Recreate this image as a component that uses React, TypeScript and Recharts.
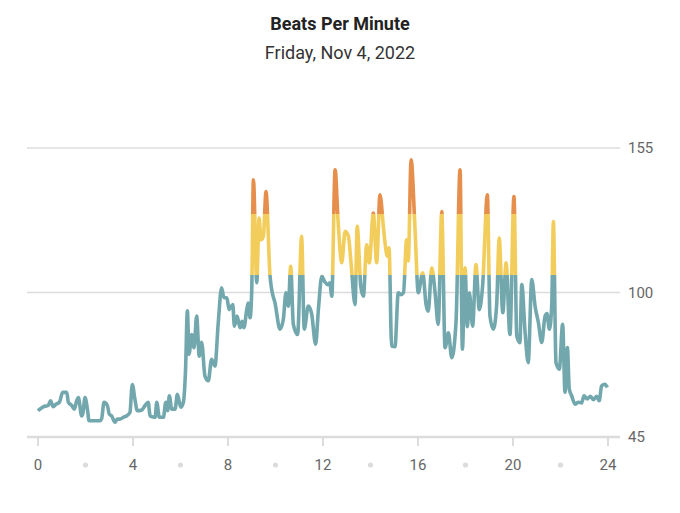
import React from 'react'
import { LineChart, Line, XAxis, YAxis, CartesianGrid } from 'recharts'

// time of day (hours) and heart rate readings
const hours = [
  0.0, 0.22, 0.43, 0.53, 0.64, 0.76, 0.9, 1.04, 1.21, 1.28, 1.42, 1.53, 1.63, 1.7, 1.84, 1.89, 1.98, 2.08, 2.15, 2.61,
  2.68, 2.78, 2.92, 3.0, 3.1, 3.24, 3.34, 3.45, 3.59, 3.73, 3.87, 3.97, 4.08, 4.18, 4.37, 4.51, 4.64, 4.72, 4.93, 5.0,
  5.11, 5.28, 5.38, 5.46, 5.53, 5.63, 5.77, 5.87, 6.01, 6.12, 6.21, 6.29, 6.36, 6.47, 6.57, 6.68, 6.79, 6.89, 7.03, 7.17,
  7.31, 7.45, 7.59, 7.73, 7.83, 7.95, 8.05, 8.2, 8.27, 8.38, 8.51, 8.59, 8.67, 8.79, 8.85, 8.93, 9.0, 9.07, 9.21, 9.31,
  9.39, 9.49, 9.6, 9.77, 9.84, 9.98, 10.19, 10.33, 10.44, 10.54, 10.64, 10.75, 10.93, 11.1, 11.21, 11.38, 11.52, 11.69, 11.81, 11.95,
  12.08, 12.21, 12.29, 12.37, 12.51, 12.64, 12.79, 12.93, 13.07, 13.17, 13.35, 13.44, 13.59, 13.7, 13.84, 13.95, 14.12, 14.26, 14.4, 14.54,
  14.61, 14.71, 14.78, 14.89, 15.03, 15.17, 15.28, 15.39, 15.52, 15.59, 15.71, 15.87, 16.01, 16.2, 16.34, 16.43, 16.58, 16.72, 16.85, 17.0,
  17.14, 17.28, 17.42, 17.6, 17.77, 17.87, 17.98, 18.08, 18.16, 18.3, 18.44, 18.58, 18.72, 18.92, 19.03, 19.17, 19.31, 19.42, 19.57, 19.71,
  19.87, 20.04, 20.16, 20.29, 20.37, 20.51, 20.64, 20.79, 20.93, 21.07, 21.21, 21.35, 21.43, 21.53, 21.63, 21.7, 21.81, 21.95, 22.09, 22.19,
  22.29, 22.37, 22.47, 22.61, 22.75, 22.89, 22.99, 23.12, 23.26, 23.38, 23.52, 23.63, 23.73, 23.87, 23.97,
]
const bpm = [
  55, 56.5, 57, 58.8, 56.5, 57.5, 58.2, 62, 62, 58.2, 57, 55.6, 58.8, 60, 53, 54, 60, 55.6, 51.2, 51.2,
  52, 58.2, 57, 53.7, 53, 50.6, 51.8, 51.8, 52.5, 53, 54.3, 65, 59.4, 55, 55.3, 57, 58.2, 53, 52.5, 58.2,
  52.5, 52.5, 58.2, 55, 60.7, 55.6, 55.6, 61.3, 56.3, 58.2, 70, 93, 76.5, 84, 79, 91, 75.8, 81, 68.2, 66.4,
  74.6, 72, 88.5, 101.8, 98, 98, 93.5, 95.4, 87.2, 91, 86.6, 89, 86.6, 93.5, 96, 90.4, 101, 142.9, 103.7, 128.3,
  120, 121.4, 138.4, 106.2, 101.1, 96, 86, 89.8, 99.9, 94.8, 110, 88, 84, 121.4, 86, 94.8, 92, 80.3, 94, 106.2,
  104, 103, 103.7, 98.6, 146.7, 126.4, 111.3, 123.3, 121.4, 112.5, 95.4, 125.2, 102.4, 98.6, 118.2, 111.3, 130.2, 111.3, 137.2, 125.2,
  119, 113.8, 117, 79.6, 79.4, 99.9, 99.2, 100, 120.1, 112, 150.5, 125.2, 99.9, 107.5, 95.4, 92.9, 109.4, 99.9, 87.9, 130.8,
  79, 84.7, 75.2, 88.5, 146.7, 78.4, 109.4, 87, 99.9, 87.2, 110.6, 93.5, 102.4, 137.2, 91, 86, 95, 120.7, 92.3, 111.3,
  84, 136.5, 83.4, 80.9, 103, 84.7, 73.3, 104.9, 94.8, 88.5, 81, 91, 92, 86, 94.8, 127, 73.3, 70.8, 87.9, 62,
  79, 63.2, 60.7, 57.5, 58.2, 58, 60.7, 59.5, 60.5, 59.2, 60.5, 58.8, 64.4, 65.1, 63.8,
]

const xTicks = [0, 2, 4, 6, 8, 10, 12, 14, 16, 18, 20, 22, 24]
const yTicks = [45, 100, 155]
const zoneHigh = 130
const zoneMid = 106.5

const data = hours.map((h, i) => ({ h, bpm: bpm[i] }))

const TEAL = '#72a8ad'
const YELLOW = '#f2cd5b'
const ORANGE = '#e68f4c'

function HourTick(props: any) {
  const { x, y, payload } = props
  const v = payload.value as number
  if (v % 4 !== 0) {
    return <circle cx={x} cy={y + 20} r={2.6} fill="#dcdcdc" />
  }
  return (
    <g>
      <line x1={x} x2={x} y1={y - 8} y2={y + 1} stroke="#dcdcdc" strokeWidth={2} />
      <text x={x} y={y + 25} textAnchor="middle" fill="#666" fontSize={15} fontFamily="Roboto">
        {v}
      </text>
    </g>
  )
}

export default function App() {
  const max = Math.max(...bpm)
  const min = Math.min(...bpm)
  const offHigh = (max - zoneHigh) / (max - min)
  const offMid = (max - zoneMid) / (max - min)

  return (
    <div style={{ position: 'relative', width: 664, height: 500, fontFamily: 'Roboto, sans-serif' }}>
      <div style={{ position: 'absolute', top: 6, left: 0, width: 664, textAlign: 'center', fontSize: 18, fontWeight: 700, lineHeight: '20px', color: '#222' }}>
        Beats Per Minute
      </div>
      <div style={{ position: 'absolute', top: 35, left: 0, width: 664, textAlign: 'center', fontSize: 18, lineHeight: '20px', color: '#333' }}>
        Friday, Nov 4, 2022
      </div>
      <LineChart width={664} height={480} data={data} margin={{ top: 140, right: 0, left: 19, bottom: 11 }}>
        <defs>
          <linearGradient id="bpmZones" x1="0" y1="0" x2="0" y2="1">
            <stop offset={0} stopColor={ORANGE} />
            <stop offset={offHigh} stopColor={ORANGE} />
            <stop offset={offHigh} stopColor={YELLOW} />
            <stop offset={offMid} stopColor={YELLOW} />
            <stop offset={offMid} stopColor={TEAL} />
            <stop offset={1} stopColor={TEAL} />
          </linearGradient>
        </defs>
        <CartesianGrid vertical={false} stroke="#dcdcdc" strokeWidth={1.5} />
        <XAxis
          dataKey="h" type="number" domain={[0, 24]} ticks={xTicks} interval={0}
          padding={{ left: 11, right: 12 }} height={40}
          axisLine={{ stroke: '#dcdcdc', strokeWidth: 2.5 }} tickLine={false} tick={<HourTick />}
        />
        <YAxis
          orientation="right" domain={[45, 155]} ticks={yTicks} width={52}
          axisLine={false} tickLine={false} tick={{ fill: '#666', fontSize: 15, fontFamily: 'Roboto' }}
        />
        <Line
          type="monotone" dataKey="bpm" stroke="url(#bpmZones)" strokeWidth={3.6}
          dot={false} activeDot={false} isAnimationActive={false}
        />
      </LineChart>
    </div>
  )
}
